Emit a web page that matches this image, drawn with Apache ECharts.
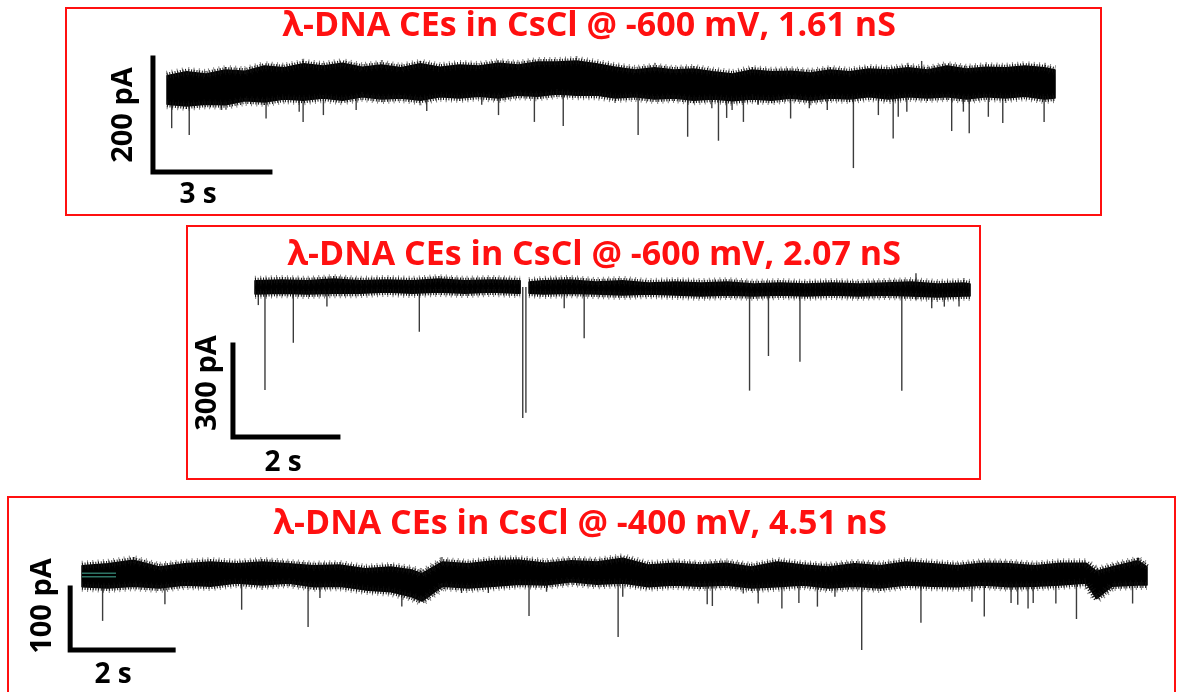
<!DOCTYPE html>
<html>
<head>
<meta charset="utf-8">
<script src="https://cdn.jsdelivr.net/npm/echarts@6/dist/echarts.min.js"></script>
<style>
  html, body { margin: 0; padding: 0; background: #fff; }
  #chart { width: 1182px; height: 692px; }
</style>
</head>
<body>
<div id="chart"></div>
<script>
// ---- Panel titles ----
const titles = [
  'λ-DNA CEs in CsCl @ -600 mV, 1.61 nS',
  'λ-DNA CEs in CsCl @ -600 mV, 2.07 nS',
  'λ-DNA CEs in CsCl @ -400 mV, 4.51 nS'
];

// ---- Scale bar labels ----
const currentBarLabels = ['200 pA', '300 pA', '100 pA'];
const timeBarLabels = ['3 s', '2 s', '2 s'];

// ---- Panel 1: noise envelope (time s, current pA relative to open-pore level) ----
const bandT1 = [0,0.5,1,1.5,2,2.5,3,3.5,4,4.5,5,5.5,6,6.5,7,7.5,8,8.5,9,9.5,10,10.5,11,11.5,12,12.5,13,13.5,14,14.5,15,15.5,16,16.5,17,17.5,18,18.5,19,19.5,20,20.5,21,21.5,22,22.5,22.77];
const bandTop1 = [25,32,28,35,33,42,39,46,42,47,40,44,39,46,40,44,42,47,44,49,49,51,46,40,35,39,35,37,32,28,35,32,33,30,35,32,37,35,39,35,42,37,40,39,42,39,35];
const bandBot1 = [-25,-28,-25,-26,-19,-21,-16,-18,-14,-18,-12,-16,-14,-18,-12,-14,-11,-14,-9,-11,-7,-9,-9,-14,-12,-16,-14,-18,-16,-19,-16,-18,-14,-18,-14,-16,-12,-16,-12,-14,-12,-16,-12,-14,-11,-16,-14];
const bandSeg1 = [[0, 22.77]];
// translocation events: time (s) and peak current (pA)
const spikeT1 = [0.12,0.57,1.40,2.54,3.39,3.49,4.01,4.85,6.66,8.07,8.50,9.42,10.16,12.08,13.35,13.97,14.14,14.35,14.49,14.78,15.16,15.99,16.47,16.93,17.60,18.24,18.62,18.75,18.97,20.12,20.42,20.57,21.06,21.43,22.49,19.35];
const spikeA1 = [-67,-79,-35,-50,-38,-56,-44,-35,-37,-26,-44,-56,-63,-79,-82,-32,-89,-49,-35,-56,-26,-50,-32,-35,-137,-44,-85,-47,-38,-72,-38,-76,-47,-58,-56,51];
const scaleT1 = [-0.36, -0.36, 2.64];
const scaleI1 = [56, -144, -144];

// ---- Panel 2 ----
const bandT2 = [0,0.5,1,1.5,2,2.5,3,3.5,4,4.5,5,5.05,5.22,5.5,6,6.5,7,7.5,8,8.5,9,9.5,10,10.5,11,11.5,12,12.5,13,13.5,13.62];
const bandTop2 = [20,23,20,26,20,23,20,26,20,23,20,20,16,20,23,16,20,13,16,13,16,10,13,10,13,10,13,16,10,13,10];
const bandBot2 = [-23,-20,-23,-20,-20,-16,-20,-16,-20,-16,-20,-20,-20,-23,-20,-23,-26,-23,-26,-29,-26,-29,-26,-29,-26,-29,-26,-29,-33,-29,-29];
const bandSeg2 = [[0, 5.05], [5.22, 13.62]];
const spikeT2 = [0.063,0.19,0.73,1.37,3.13,5.10,5.16,5.89,6.27,9.42,9.78,10.38,12.32,12.59,12.89,13.13,13.41,12.59];
const spikeA2 = [-59,-336,-182,-64,-146,-427,-410,-69,-167,-338,-225,-244,-338,-42,-69,-64,-64,45];
const scaleT2 = [-0.42, -0.42, 1.58];
const scaleI2 = [-189, -489, -489];

// ---- Panel 3 ----
const bandT3 = [0,0.5,1,1.5,2,2.5,3,3.5,4,4.5,5,5.5,6,6.4,6.6,7,7.5,8,8.5,9,9.5,10,10.5,11,11.5,12,12.5,13,13.5,14,14.5,15,15.5,16,16.5,17,17.5,18,18.5,19,19.5,19.7,20,20.5,20.68];
const bandTop3 = [15,18,24,13,18,21,18,21,18,15,16,10,13,8,2,21,18,23,24,19,23,21,27,16,19,16,19,13,21,16,13,18,15,21,18,15,19,18,15,19,19,6,13,23,13];
const bandBot3 = [-19,-21,-18,-21,-16,-18,-13,-16,-13,-19,-18,-24,-27,-35,-42,-18,-21,-18,-15,-16,-11,-15,-13,-19,-16,-18,-16,-21,-19,-16,-21,-18,-21,-16,-18,-19,-16,-19,-18,-16,-13,-38,-18,-16,-16];
const bandSeg3 = [[0, 20.68]];
const spikeT3 = [0.40,1.61,3.10,4.39,4.62,6.21,7.37,7.89,8.68,9.02,10.41,10.50,12.14,12.24,12.84,13.13,13.59,13.92,14.28,14.62,15.14,16.29,17.28,17.52,18.04,18.17,18.37,18.47,18.91,19.31,20.40];
const spikeA3 = [-74,-47,-56,-84,-37,-51,-29,-29,-66,-27,-100,-35,-47,-50,-30,-46,-54,-45,-51,-35,-121,-77,-43,-67,-45,-48,-54,-45,-46,-71,-46];
const scaleT3 = [-0.23, -0.23, 1.77];
const scaleI3 = [-21, -121, -121];
// short marker lines at the start of the third trace
const markT3 = [0, 0.66];
const markI3 = [3, -3];

const panels = [
  { bandT: bandT1, top: bandTop1, bot: bandBot1, seg: bandSeg1, sT: spikeT1, sA: spikeA1, scT: scaleT1, scI: scaleI1 },
  { bandT: bandT2, top: bandTop2, bot: bandBot2, seg: bandSeg2, sT: spikeT2, sA: spikeA2, scT: scaleT2, scI: scaleI2 },
  { bandT: bandT3, top: bandTop3, bot: bandBot3, seg: bandSeg3, sT: spikeT3, sA: spikeA3, scT: scaleT3, scI: scaleI3 }
];

// Layout of each panel's plotting area and its axis ranges
const layout = [
  { grid: { left: 139.7, top: 55.8, width: 936, height: 125.4 }, x: [-0.7, 23.3], y: [-160, 60] },
  { grid: { left: 223.5, top: 268.6, width: 766.5, height: 171.7 }, x: [-0.6, 14], y: [-500, 60] },
  { grid: { left: 61.4, top: 550.2, width: 1102.1, height: 111.6 }, x: [-0.4, 21], y: [-140, 40] }
];

const RED = '#ff1010';
const grids = [], xAxes = [], yAxes = [], series = [];

// fringe strokes that give the band edges their noisy look
const fringe = (pts) => [
  { type: 'polyline', shape: { points: pts },
    style: { fill: 'none', stroke: '#111', lineWidth: 6, lineDash: [1, 1.7] } },
  { type: 'polyline', shape: { points: pts },
    style: { fill: 'none', stroke: 'rgba(20,20,20,0.55)', lineWidth: 10, lineDash: [1, 4.3] } }
];

layout.forEach((L, i) => {
  grids.push(Object.assign({ containLabel: false }, L.grid));
  xAxes.push({ type: 'value', gridIndex: i, min: L.x[0], max: L.x[1], show: false, splitLine: { show: false } });
  yAxes.push({ type: 'value', gridIndex: i, min: L.y[0], max: L.y[1], show: false, splitLine: { show: false } });
  const P = panels[i];

  // noise band: closed polygon between upper and lower envelope of each trace segment
  series.push({
    type: 'custom', xAxisIndex: i, yAxisIndex: i, clip: false, silent: true,
    data: P.seg.map(s => [s[0], s[1]]),
    renderItem: (params, api) => {
      const t0 = api.value(0), t1 = api.value(1);
      const upper = [], lower = [];
      P.bandT.forEach((t, k) => {
        if (t >= t0 - 1e-9 && t <= t1 + 1e-9) {
          upper.push(api.coord([t, P.top[k]]));
          lower.push(api.coord([t, P.bot[k]]));
        }
      });
      const pts = upper.concat(lower.slice().reverse());
      return {
        type: 'group',
        children: [
          { type: 'polygon', shape: { points: pts },
            style: { fill: '#000', stroke: '#000', lineWidth: 1.5, lineJoin: 'round' } }
        ].concat(fringe(upper), fringe(lower))
      };
    },
    z: 3
  });

  // events: vertical strokes from the baseline to the peak current
  series.push({
    type: 'custom', xAxisIndex: i, yAxisIndex: i, clip: false, silent: true,
    data: P.sT.map((t, k) => [t, P.sA[k]]),
    renderItem: (params, api) => {
      const a = api.coord([api.value(0), 0]);
      const b = api.coord([api.value(0), api.value(1)]);
      return {
        type: 'line',
        shape: { x1: a[0], y1: a[1], x2: b[0], y2: b[1] },
        style: { stroke: '#3c3c3c', lineWidth: 1.4 }
      };
    },
    z: 2
  });

  // L-shaped scale bar
  series.push({
    type: 'line', xAxisIndex: i, yAxisIndex: i, silent: true, symbol: 'none', animation: false,
    data: P.scT.map((t, k) => [t, P.scI[k]]),
    lineStyle: { color: '#000', width: 5, cap: 'square', join: 'miter' },
    z: 4
  });
});

// teal marker lines on the third trace
[markI3[0], markI3[1]].forEach(v => {
  series.push({
    type: 'line', xAxisIndex: 2, yAxisIndex: 2, silent: true, symbol: 'none',
    data: markT3.map(t => [t, v]),
    lineStyle: { color: '#2e7466', width: 1.5 },
    z: 5
  });
});

// frames, titles and scale labels
const frames = [
  { x: 66, y: 8, w: 1035, h: 207 },
  { x: 187, y: 226, w: 793, h: 253 },
  { x: 8, y: 497, w: 1167, h: 198 }
];
const titlePos = [[589, 26], [594, 255], [580, 524]];
const curLabelPos = [[124, 115], [208, 383], [43, 606]];
const timeLabelPos = [[198, 195], [283, 463], [113, 675]];

const graphic = [];
frames.forEach(f => graphic.push({
  type: 'rect', silent: true,
  shape: { x: f.x, y: f.y, width: f.w, height: f.h },
  style: { fill: 'none', stroke: RED, lineWidth: 2 }, z: 10
}));
titles.forEach((t, i) => graphic.push({
  type: 'text', silent: true, x: titlePos[i][0], y: titlePos[i][1],
  style: { text: t, fill: RED, font: 'bold 34px "Open Sans", sans-serif', textAlign: 'center', textVerticalAlign: 'middle' }, z: 10
}));
currentBarLabels.forEach((t, i) => graphic.push({
  type: 'text', silent: true, x: curLabelPos[i][0], y: curLabelPos[i][1], rotation: Math.PI / 2,
  style: { text: t, fill: '#000', font: 'bold 29px "Open Sans", sans-serif', textAlign: 'center', textVerticalAlign: 'middle' }, z: 10
}));
timeBarLabels.forEach((t, i) => graphic.push({
  type: 'text', silent: true, x: timeLabelPos[i][0], y: timeLabelPos[i][1],
  style: { text: t, fill: '#000', font: 'bold 28px "Open Sans", sans-serif', textAlign: 'center', textVerticalAlign: 'middle' }, z: 10
}));

const chart = echarts.init(document.getElementById('chart'), null, { renderer: 'canvas' });
chart.setOption({
  animation: false,
  backgroundColor: '#fff',
  grid: grids,
  xAxis: xAxes,
  yAxis: yAxes,
  series: series,
  graphic: graphic
});
</script>
</body>
</html>
